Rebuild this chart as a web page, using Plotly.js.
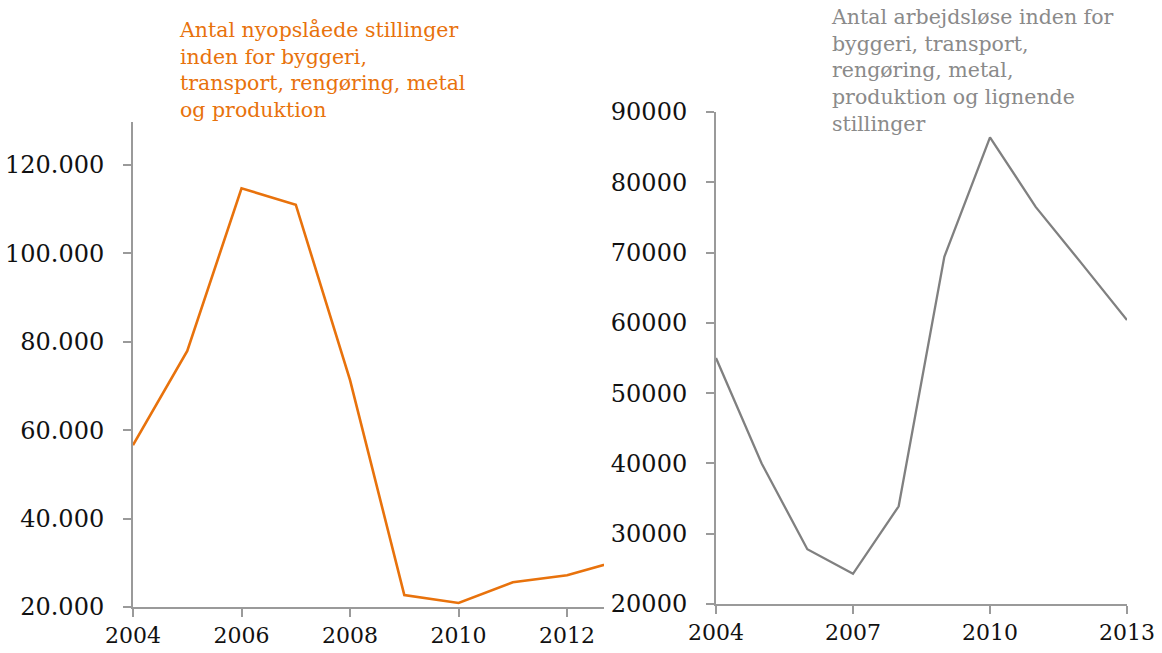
<!DOCTYPE html>
<html>
<head>
<meta charset="utf-8">
<script src="https://cdn.plot.ly/plotly-3.0.1.min.js"></script>
<style>html,body{margin:0;padding:0;background:#fff;}#chart{width:1162px;height:653px;}</style>
</head>
<body>
<div id="chart"></div>
<script>
// Left panel: new job postings
const yearsLeft = [2004, 2005, 2006, 2007, 2008, 2009, 2010, 2011, 2012, 2013];
const postings = [56600, 77900, 114700, 111000, 71300, 22700, 20900, 25600, 27200, 30600];
const titleLeft = "Antal nyopslåede stillinger<br>inden for byggeri,<br>transport, rengøring, metal<br>og produktion";

// Right panel: unemployed
const yearsRight = [2004, 2005, 2006, 2007, 2008, 2009, 2010, 2011, 2012, 2013];
const unemployed = [55000, 40000, 27800, 24300, 33900, 69400, 86400, 76500, 68500, 60400];
const titleRight = "Antal arbejdsløse inden for<br>byggeri, transport,<br>rengøring, metal,<br>produktion og lignende<br>stillinger";

const W = 1162, H = 653;
const axisColor = "#9a9a9a";
const yTickFont = {family: "DejaVu Serif", size: 24, color: "#111"};
const xTickFont = {family: "DejaVu Serif", size: 22, color: "#111"};

const traces = [
  {x: yearsLeft, y: postings, type: "scatter", mode: "lines", xaxis: "x", yaxis: "y",
   line: {color: "#E8720C", width: 2.6}, hoverinfo: "x+y"},
  {x: yearsRight, y: unemployed, type: "scatter", mode: "lines", xaxis: "x2", yaxis: "y2",
   line: {color: "#808080", width: 2.3}, hoverinfo: "x+y"}
];

const commonAxis = {
  showgrid: false, zeroline: false, showline: true, linecolor: axisColor, linewidth: 2,
  ticks: "outside", ticklen: 8, tickwidth: 2, tickcolor: axisColor
};

const layout = {
  width: W, height: H,
  margin: {l: 0, r: 0, t: 0, b: 0},
  paper_bgcolor: "#fff", plot_bgcolor: "#fff",
  showlegend: false,
  separators: ",.",
  xaxis: Object.assign({}, commonAxis, {
    domain: [133 / W, 604 / W], range: [2004, 2012.68], anchor: "y", tickfont: xTickFont,
    tickmode: "linear", tick0: 2004, dtick: 2, ticklabelstandoff: 0
  }),
  yaxis: Object.assign({}, commonAxis, {
    domain: [(H - 607) / H, (H - 122) / H], range: [20000, 129700], anchor: "x", tickfont: yTickFont,
    tickmode: "linear", tick0: 20000, dtick: 20000, tickformat: ",d", ticklabelstandoff: 14
  }),
  xaxis2: Object.assign({}, commonAxis, {
    domain: [716 / W, 1127 / W], range: [2004, 2013], anchor: "y2", tickfont: xTickFont,
    tickmode: "linear", tick0: 2004, dtick: 3, ticklabelstandoff: 0
  }),
  yaxis2: Object.assign({}, commonAxis, {
    domain: [(H - 604) / H, (H - 112) / H], range: [20000, 90000], anchor: "x2", tickfont: yTickFont,
    tickmode: "linear", tick0: 20000, dtick: 10000, tickformat: "d", ticklabelstandoff: 14
  }),
  annotations: [
    {text: titleLeft, xref: "paper", yref: "paper", x: 177 / W, y: (H - 16) / H,
     xanchor: "left", yanchor: "top", align: "left", showarrow: false,
     font: {family: "DejaVu Serif", size: 20.5, color: "#E8720C"}},
    {text: titleRight, xref: "paper", yref: "paper", x: 829 / W, y: (H - 3) / H,
     xanchor: "left", yanchor: "top", align: "left", showarrow: false,
     font: {family: "DejaVu Serif", size: 20.5, color: "#8a8a8a"}}
  ]
};

Plotly.newPlot("chart", traces, layout, {displayModeBar: false, staticPlot: true});
</script>
</body>
</html>
